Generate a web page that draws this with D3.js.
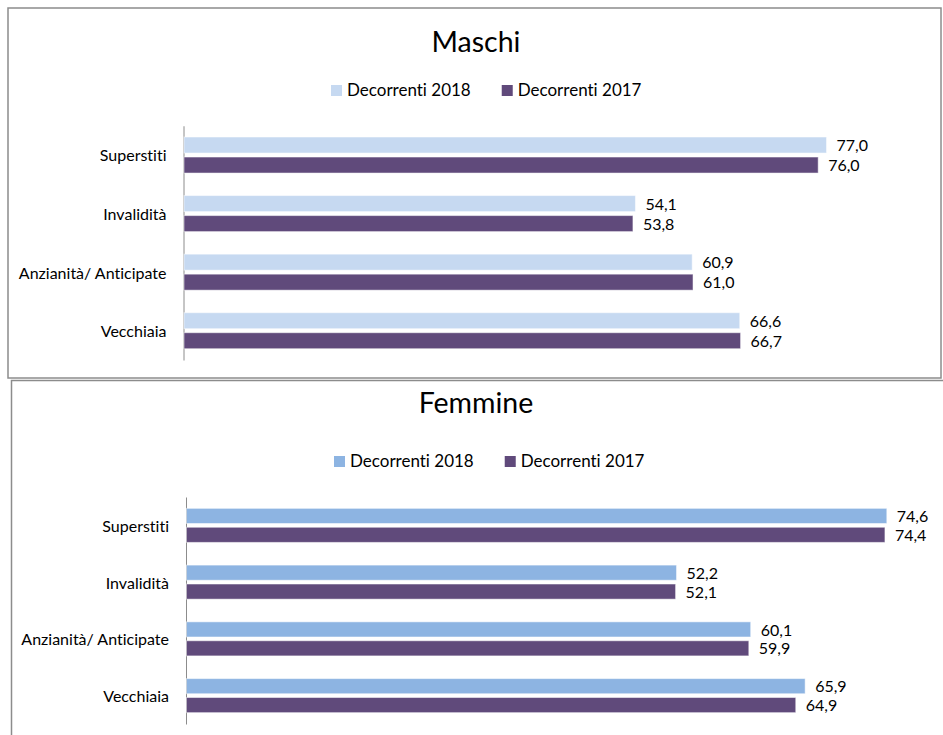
<!DOCTYPE html>
<html>
<head>
<meta charset="utf-8">
<script src="https://cdn.jsdelivr.net/npm/d3@7"></script>
<style>
  body { margin: 0; background: #fff; }
  text { font-family: Lato, 'Liberation Sans', sans-serif; fill: #000; font-variant-ligatures: none; }
</style>
</head>
<body>
<svg></svg>
<script>
// categories (top to bottom)
let categories = ['Superstiti', 'Invalidità', 'Anzianità/ Anticipate', 'Vecchiaia'];
let series = ['Decorrenti 2018', 'Decorrenti 2017'];

// values
let maschi2018 = [77.0, 54.1, 60.9, 66.6];
let maschi2017 = [76.0, 53.8, 61.0, 66.7];
let femmine2018 = [74.6, 52.2, 60.1, 65.9];
let femmine2017 = [74.4, 52.1, 59.9, 64.9];

let svg = d3.select('svg');
svg.attr('width', 943);
svg.attr('height', 735);

// panel frames
svg.append('rect')
  .attr('x', 11.5).attr('y', 380.5)
  .attr('width', 960).attr('height', 400)
  .attr('fill', '#fff').attr('stroke', '#8c8c8c').attr('stroke-width', 1.5);

svg.append('rect')
  .attr('x', 8).attr('y', 8)
  .attr('width', 933).attr('height', 370)
  .attr('fill', '#fff').attr('stroke', '#8c8c8c').attr('stroke-width', 1.5);

drawPanel({
  title: 'Maschi', titleY: 52, legendY: 96, legendX: 331,
  a: maschi2018, b: maschi2017,
  colors: ['#c6d9f1', '#604a7b'],
  x0: 184, xmax: 90, top: 125.75, bottom: 360, padding: 0.385
});

drawPanel({
  title: 'Femmine', titleY: 413, legendY: 467, legendX: 334,
  a: femmine2018, b: femmine2017,
  colors: ['#8db4e2', '#604a7b'],
  x0: 186.5, xmax: 80, top: 497, bottom: 724, padding: 0.4
});

function drawPanel(c) {
  let g = svg.append('g');

  let data = categories.map((cat, i) => ({
    cat: cat,
    values: [
      { key: series[0], value: c.a[i] },
      { key: series[1], value: c.b[i] }
    ]
  }));

  let x = d3.scaleLinear().domain([0, c.xmax]).range([c.x0, c.x0 + 751]);
  let y = d3.scaleBand().domain(categories).range([c.top, c.bottom])
    .paddingInner(c.padding).paddingOuter(c.padding / 2);
  let y1 = d3.scaleBand().domain(series).range([0, y.bandwidth()]).paddingInner(0.2);
  let color = d3.scaleOrdinal().domain(series).range(c.colors);

  // title
  g.append('text')
    .attr('x', 476).attr('y', c.titleY)
    .attr('text-anchor', 'middle')
    .style('font-size', '28.5px')
    .text(c.title);

  // legend
  let lx = c.legendX;
  series.forEach(function(s) {
    g.append('rect')
      .attr('x', lx).attr('y', c.legendY - 11)
      .attr('width', 11).attr('height', 11)
      .attr('fill', color(s));
    let t = g.append('text')
      .attr('x', lx + 16).attr('y', c.legendY)
      .style('font-size', '17px')
      .text(s);
    lx += 16 + t.node().getComputedTextLength() + 31;
  });

  // category axis
  let axis = d3.axisLeft(y).tickSize(0).tickPadding(17);
  let ga = g.append('g')
    .attr('transform', 'translate(' + (c.x0 - 0.5) + ',0)')
    .call(axis);
  ga.select('.domain').attr('stroke', '#8c8c8c');
  ga.selectAll('text')
    .style('font-size', '16px')
    .attr('dy', '0.4em');

  // bars
  let groups = g.selectAll('g.cat')
    .data(data)
    .enter()
    .append('g')
    .attr('class', 'cat')
    .attr('transform', d => 'translate(0,' + y(d.cat) + ')');

  groups.selectAll('rect')
    .data(d => d.values)
    .enter()
    .append('rect')
    .attr('x', x(0))
    .attr('y', d => y1(d.key))
    .attr('width', d => x(d.value) - x(0))
    .attr('height', y1.bandwidth())
    .attr('fill', d => color(d.key))
    .attr('stroke', '#ffffff')
    .attr('stroke-opacity', 0.5)
    .attr('stroke-width', 1);

  groups.selectAll('text.val')
    .data(d => d.values)
    .enter()
    .append('text')
    .attr('class', 'val')
    .attr('x', d => x(d.value) + 10)
    .attr('y', d => y1(d.key) + y1.bandwidth() / 2)
    .attr('dy', '0.38em')
    .style('font-size', '16px')
    .text(d => d3.format('.1f')(d.value).replace('.', ','));
}
</script>
</body>
</html>
